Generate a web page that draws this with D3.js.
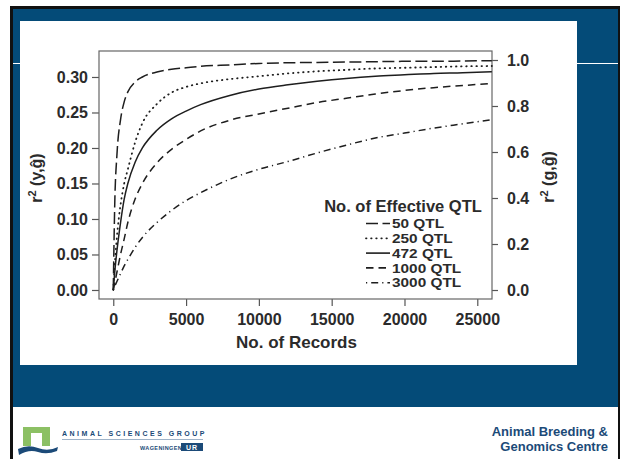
<!DOCTYPE html>
<html>
<head>
<meta charset="utf-8">
<script src="https://cdn.jsdelivr.net/npm/d3@7"></script>
<style>
  body { margin: 0; background: #fff; }
  svg { display: block; }
  text { font-family: "Liberation Sans", Arial, Helvetica, sans-serif; }
</style>
</head>
<body>
<svg width="624" height="459"></svg>
<script>
// values: r2(y,g^) against number of records
const records = [0, 100, 250, 500, 750, 1000, 1500, 2000, 3000, 4000, 5000, 6000, 8000, 10000, 12000, 14000, 16000, 18000, 20000, 22000, 24000, 26000];
const qtl50   = [0, 0.120, 0.190, 0.240, 0.265, 0.279, 0.293, 0.300, 0.307, 0.311, 0.313, 0.315, 0.317, 0.319, 0.320, 0.3205, 0.321, 0.3215, 0.322, 0.322, 0.3225, 0.323];
const qtl250  = [0, 0.035, 0.075, 0.120, 0.150, 0.170, 0.208, 0.235, 0.262, 0.278, 0.286, 0.291, 0.297, 0.301, 0.305, 0.308, 0.310, 0.312, 0.313, 0.314, 0.315, 0.3155];
const qtl472  = [0, 0.025, 0.055, 0.095, 0.128, 0.150, 0.180, 0.200, 0.225, 0.241, 0.252, 0.261, 0.274, 0.283, 0.289, 0.294, 0.298, 0.301, 0.303, 0.305, 0.306, 0.3075];
const qtl1000 = [0, 0.010, 0.025, 0.050, 0.072, 0.095, 0.128, 0.150, 0.179, 0.198, 0.212, 0.224, 0.239, 0.248, 0.256, 0.264, 0.270, 0.276, 0.281, 0.285, 0.288, 0.291];
const qtl3000 = [0, 0.005, 0.012, 0.023, 0.034, 0.043, 0.060, 0.074, 0.095, 0.112, 0.126, 0.137, 0.156, 0.170, 0.181, 0.193, 0.204, 0.214, 0.221, 0.228, 0.234, 0.240];

const seriesNames = ["50 QTL", "250 QTL", "472 QTL", "1000 QTL", "3000 QTL"];
const seriesValues = [qtl50, qtl250, qtl472, qtl1000, qtl3000];
const dashes = ["12,4.5", "0.5,4.6", null, "7.5,5", "1.2,4,7,4"];

const xTicks = [0, 5000, 10000, 15000, 20000, 25000];
const leftTicks = [0, 0.05, 0.10, 0.15, 0.20, 0.25, 0.30];
const rightTicks = [0, 0.2, 0.4, 0.6, 0.8, 1.0];

const svg = d3.select("svg");

// slide template
svg.append("rect").attr("x", 10).attr("y", 6).attr("width", 610).attr("height", 460).attr("fill", "#111");
svg.append("rect").attr("x", 13).attr("y", 9).attr("width", 605).attr("height", 398).attr("fill", "#044b78");
svg.append("rect").attr("x", 13).attr("y", 407).attr("width", 605).attr("height", 60).attr("fill", "#fff");
svg.append("line").attr("x1", 13).attr("x2", 618).attr("y1", 63.5).attr("y2", 63.5).attr("stroke", "#fff").attr("stroke-width", 1);
svg.append("rect").attr("x", 20).attr("y", 21).attr("width", 557).attr("height", 344).attr("fill", "#fff");

// plot area
const plotL = 99, plotR = 492, plotT = 51, plotB = 299;
const ink = "#2b2b2b";

const x = d3.scaleLinear().domain([-980, 26010]).range([plotL, plotR]);
const yL = d3.scaleLinear().domain([-0.0127, 0.3366]).range([plotB, plotT]);
const yR = d3.scaleLinear().domain([-0.0391, 1.0391]).range([plotB, plotT]);

const tickFont = "16px";

const gx = svg.append("g").attr("transform", `translate(0,${plotB})`)
  .call(d3.axisBottom(x).tickValues(xTicks).tickFormat(d3.format("d")).tickSize(7).tickPadding(8));
const gl = svg.append("g").attr("transform", `translate(${plotL},0)`)
  .call(d3.axisLeft(yL).tickValues(leftTicks).tickFormat(d3.format(".2f")).tickSize(7).tickPadding(4));
const gr = svg.append("g").attr("transform", `translate(${plotR},0)`)
  .call(d3.axisRight(yR).tickValues(rightTicks).tickFormat(d3.format(".1f")).tickSize(6).tickPadding(9));

[gx, gl, gr].forEach(g => {
  g.select(".domain").remove();
  g.selectAll(".tick line").attr("stroke", "#555").attr("stroke-width", 1.2);
  g.selectAll(".tick text").attr("fill", ink).style("font-size", tickFont).style("font-weight", "bold");
});

svg.append("rect").attr("x", plotL).attr("y", plotT).attr("width", plotR - plotL).attr("height", plotB - plotT)
  .attr("fill", "none").attr("stroke", "#666").attr("stroke-width", 1.2);

// curves
const line = d3.line().x(d => x(d[0])).y(d => yL(d[1])).curve(d3.curveMonotoneX);

seriesValues.forEach((vals, i) => {
  svg.append("path")
    .datum(records.map((r, j) => [r, vals[j]]))
    .attr("d", line)
    .attr("fill", "none")
    .attr("stroke", "#1e1e1e")
    .attr("stroke-width", i === 1 ? 1.8 : 1.5)
    .attr("stroke-linecap", i === 1 ? "round" : "butt")
    .attr("stroke-dasharray", dashes[i]);
});

// axis titles
svg.append("text").attr("x", (plotL + plotR) / 2 + 1).attr("y", 348)
  .attr("text-anchor", "middle").attr("fill", ink)
  .style("font-size", "17px").style("font-weight", "bold")
  .text("No. of Records");

const leftTitle = svg.append("text").attr("transform", "translate(42,178) rotate(-90)")
  .attr("text-anchor", "middle").attr("fill", ink).style("font-size", "16px").style("font-weight", "bold");
leftTitle.append("tspan").text("r");
leftTitle.append("tspan").attr("dy", -6).style("font-size", "11px").text("2");
leftTitle.append("tspan").attr("dy", 6).text(" (y,\u011D)");

const rightTitle = svg.append("text").attr("transform", "translate(554,177) rotate(-90)")
  .attr("text-anchor", "middle").attr("fill", ink).style("font-size", "16px").style("font-weight", "bold");
rightTitle.append("tspan").text("r");
rightTitle.append("tspan").attr("dy", -6).style("font-size", "11px").text("2");
rightTitle.append("tspan").attr("dy", 6).text(" (g,\u011D)");

// legend
svg.append("text").attr("x", 403).attr("y", 211.5).attr("text-anchor", "middle")
  .attr("fill", ink).style("font-size", "16.5px").style("font-weight", "bold")
  .text("No. of Effective QTL");

seriesNames.forEach((name, i) => {
  const cy = 223.5 + i * 14.8;
  svg.append("line").attr("x1", 366).attr("x2", 390).attr("y1", cy).attr("y2", cy)
    .attr("stroke", "#1e1e1e").attr("stroke-width", i === 1 ? 1.8 : 1.6)
    .attr("stroke-linecap", i === 1 ? "round" : "butt")
    .attr("stroke-dasharray", dashes[i]);
  svg.append("text").attr("transform", `translate(392,${cy + 4.6}) scale(1.22,1)`)
    .attr("fill", ink).style("font-size", "12.6px").style("font-weight", "bold")
    .text(name);
});

// footer
const navy = "#1b4a78";
svg.append("text").attr("x", 608).attr("y", 436).attr("text-anchor", "end")
  .attr("fill", navy).style("font-size", "13px").style("font-weight", "bold").text("Animal Breeding &");
svg.append("text").attr("x", 608).attr("y", 451).attr("text-anchor", "end")
  .attr("fill", navy).style("font-size", "13px").style("font-weight", "bold").text("Genomics Centre");

// logo
svg.append("rect").attr("x", 23).attr("y", 427).attr("width", 27).attr("height", 19).attr("fill", "#8cc064");
svg.append("rect").attr("x", 31).attr("y", 433).attr("width", 11).attr("height", 13).attr("fill", "#fff");
svg.append("path")
  .attr("d", "M18,449 Q28,444 38,448 T58,447 L57,451 Q47,455 38,452 T19,455 Z")
  .attr("fill", navy);
svg.append("text").attr("x", 62).attr("y", 435.5).attr("fill", navy)
  .style("font-size", "7px").style("font-weight", "bold").style("letter-spacing", "2.5px")
  .text("ANIMAL SCIENCES GROUP");
svg.append("line").attr("x1", 62).attr("x2", 203).attr("y1", 439.5).attr("y2", 439.5)
  .attr("stroke", "#9fb3c8").attr("stroke-width", 1);
svg.append("text").attr("x", 140).attr("y", 449.5).attr("fill", navy)
  .style("font-size", "5.5px").style("font-weight", "bold").style("letter-spacing", "0.4px")
  .text("WAGENINGEN");
svg.append("rect").attr("x", 181).attr("y", 443).attr("width", 22).attr("height", 8).attr("fill", navy);
svg.append("text").attr("x", 192).attr("y", 449.7).attr("text-anchor", "middle").attr("fill", "#fff")
  .style("font-size", "7px").style("font-weight", "bold").style("letter-spacing", "1px")
  .text("UR");
</script>
</body>
</html>
